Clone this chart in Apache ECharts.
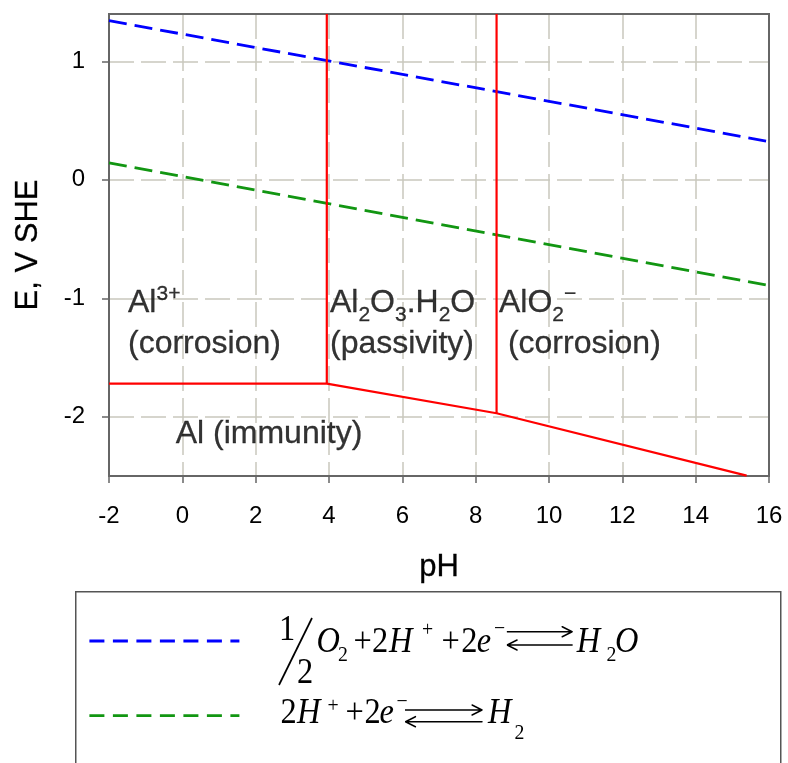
<!DOCTYPE html>
<html><head><meta charset="utf-8">
<script src="https://cdn.jsdelivr.net/npm/echarts@6/dist/echarts.min.js"></script>
<style>html,body{margin:0;padding:0;background:#fff}#c{width:788px;height:763px}</style>
</head><body><div id="c"></div>
<script>
// ---- data ----
const xTicks = [-2, 0, 2, 4, 6, 8, 10, 12, 14, 16];
const yTicks = [-2, -1, 0, 1];
const o2Line = [[-2, 1.344], [16, 0.323]];
const h2Line = [[-2, 0.144], [16, -0.891]];
const boundaryLower = [[-2, -1.72], [3.94, -1.72], [8.57, -1.97], [15.39, -2.497]];
const boundaryAcid = [[3.94, 1.4], [3.94, -1.72]];
const boundaryBase = [[8.57, 1.4], [8.57, -1.97]];
const regionTexts = [
  '{t|Al}{sup|3+}\n{t|(corrosion)}',
  '{t|Al}{sub|2}{t|O}{sub|3}{t|.H}{sub|2}{t|O}\n{t|(passivity)}',
  '{t|AlO}{sub|2}{sup|\u2212}\n{t| (corrosion)}',
  '{t|Al (immunity)}'
];
const regionAnchors = [[-1.482, -0.864], [4.027, -0.864], [8.636, -0.864], [-0.181, -1.975]];
const legendNames = ['O2 reduction', 'H2 evolution'];
const equationTexts = [
  '{f1|1}{f2|2}{vO|O}{sb1|2}{op1|+}{n2|2}{vH1|H}{sp1|+}{op2|+}{n3|2}{ve1|e}{sm1|\u2212}{ar1| }{vH2|H}{sb2|2}{vO2|O}',
  '{m1|2}{wH1|H}{sp2|+}{op3|+}{m2|2}{we|e}{sm2|\u2212}{ar2| }{wH2|H}{sb3|2}'
];

// ---- chart ----
const chart = echarts.init(document.getElementById('c'), null, {renderer: 'canvas'});
const sans = 'Liberation Sans, Arial, sans-serif';
const serif = 'Liberation Serif, Times New Roman, serif';
const gridColor = '#c9c7bd';
const axisColor = '#666666';
const SX = 0.9; // horizontal squeeze of the equation typesetting

function arrowImage(w, h, x0, x1, yT, yB) {
  const svg = '<svg xmlns="http://www.w3.org/2000/svg" width="' + w + '" height="' + h + '" viewBox="0 0 ' + w + ' ' + h + '" preserveAspectRatio="none">' +
    '<g stroke="#000" stroke-width="1.6" fill="none" stroke-linecap="round" stroke-linejoin="round">' +
    '<path d="M' + x0 + ' ' + yT + ' H' + x1 + ' M' + (x1 - 11) + ' ' + (yT - 5) + ' L' + x1 + ' ' + yT + ' L' + (x1 - 11) + ' ' + (yT + 5) + '"/>' +
    '<path d="M' + x1 + ' ' + yB + ' H' + x0 + ' M' + (x0 + 11) + ' ' + (yB - 5) + ' L' + x0 + ' ' + yB + ' L' + (x0 + 11) + ' ' + (yB + 5) + '"/>' +
    '</g></svg>';
  return 'data:image/svg+xml;charset=utf-8,' + encodeURIComponent(svg);
}

const regionRich = {
  t: {fontSize: 32, fontFamily: sans, color: '#000', lineHeight: 41, textBorderColor: '#000', textBorderWidth: 0.3},
  sup: {fontSize: 21, fontFamily: sans, color: '#000', lineHeight: 41, padding: [0, 0, 17, 0], textBorderColor: '#000', textBorderWidth: 0.3},
  sub: {fontSize: 21, fontFamily: sans, color: '#000', lineHeight: 41, padding: [26, 0, 0, 0], textBorderColor: '#000', textBorderWidth: 0.3}
};

function tk(size, width, pad, italic) {
  const s = {fontSize: size, fontFamily: serif, fill: '#000', lineHeight: 40, width: width, align: 'left'};
  if (italic) s.fontStyle = 'italic';
  if (pad) s.padding = pad;
  return s;
}
const eqRich = {
  f1: tk(36, 20, [0, 0, 24, 0]), f2: tk(36, 21.7, [62, 0, 0, 0]),
  vO: tk(36, 23.9, null, true), sb1: tk(22, 17.1, [25, 0, 0, 0]), op1: tk(36, 20.7), n2: tk(36, 18.9),
  vH1: tk(36, 36.6, null, true), sp1: tk(22, 21.7, [0, 0, 25, 0]), op2: tk(36, 21.8), n3: tk(36, 17.2),
  ve1: tk(36, 19.4, null, true), sm1: tk(22, 13.9, [0, 0, 28, 0]),
  ar1: {width: 77.8, height: 34, lineHeight: 40, fontSize: 10, backgroundColor: {image: arrowImage(77.8, 34, 0.6, 72.8, 5.7, 19)}},
  vH2: tk(36, 33.3, null, true), sb2: tk(22, 9.4, [25, 0, 0, 0]), vO2: tk(36, 28, null, true),
  m1: tk(36, 18.3), wH1: tk(36, 33.8, null, true), sp2: tk(22, 20, [0, 0, 14, 0]),
  op3: tk(36, 21.2), m2: tk(36, 16.7), we: tk(36, 18.9, null, true), sm2: tk(22, 9.4, [0, 0, 23, 0]),
  ar2: {width: 92.2, height: 34, lineHeight: 40, fontSize: 10, backgroundColor: {image: arrowImage(92.2, 34, 0.6, 85.6, 13.7, 25.4)}},
  wH2: tk(36, 29.4, null, true), sb3: tk(22, 12, [40, 0, 0, 0])
};

const redStyle = {color: '#ff0000', width: 2.2};
const nameStyle = {fontSize: 31, fontFamily: sans, color: '#000', textBorderColor: '#000', textBorderWidth: 0.3};

const option = {
  animation: false,
  backgroundColor: '#ffffff',
  grid: {left: 109, right: 19, top: 14, bottom: 287, show: true, z: 3, borderColor: axisColor, borderWidth: 2, backgroundColor: 'transparent'},
  xAxis: {
    type: 'value', min: -2, max: 16, interval: 2,
    name: 'pH', nameLocation: 'middle', nameGap: 76,
    nameTextStyle: nameStyle,
    axisLine: {show: true, onZero: false, lineStyle: {color: axisColor, width: 2}},
    axisTick: {show: true, inside: false, length: 7, lineStyle: {color: axisColor, width: 1.5}},
    axisLabel: {fontSize: 24, fontFamily: sans, color: '#000', margin: 28},
    splitLine: {show: true, lineStyle: {color: gridColor, width: 1.5, type: [25, 7]}}
  },
  yAxis: {
    type: 'value', min: -2.5, max: 1.4,
    name: 'E, V SHE', nameLocation: 'middle', nameGap: 65, nameRotate: 90,
    nameTextStyle: nameStyle,
    axisLine: {show: true, onZero: false, lineStyle: {color: axisColor, width: 2}},
    axisTick: {show: true, inside: false, length: 7, customValues: yTicks, lineStyle: {color: axisColor, width: 1.5}},
    axisLabel: {fontSize: 24, fontFamily: sans, color: '#000', margin: 24, customValues: yTicks},
    splitLine: {show: true, lineStyle: {color: gridColor, width: 1.5, type: [25, 7]}}
  },
  legend: {
    show: true, orient: 'vertical', left: 88, top: 634, padding: 0,
    itemWidth: 150, itemHeight: 14, itemGap: 62,
    data: legendNames,
    selectedMode: false,
    itemStyle: {color: 'transparent', borderColor: 'transparent', borderWidth: 0},
    lineStyle: {type: [15, 8.5], width: 2.8},
    formatter: function () { return ''; }
  },
  graphic: [
    {type: 'rect', left: 75, top: 591, silent: true, z: -1,
     shape: {width: 705, height: 200},
     style: {fill: 'transparent', stroke: '#555', lineWidth: 1.5}},
    {type: 'text', x: 279, y: 643, scaleX: SX, silent: true,
     style: {text: equationTexts[0], rich: eqRich, verticalAlign: 'middle', align: 'left', fill: '#000'}},
    {type: 'line', silent: true, shape: {x1: 279, y1: 685, x2: 312, y2: 618},
     style: {stroke: '#000', lineWidth: 1.7}},
    {type: 'text', x: 280.5, y: 713.3, scaleX: SX, silent: true,
     style: {text: equationTexts[1], rich: eqRich, verticalAlign: 'middle', align: 'left', fill: '#000'}}
  ],
  series: [
    {name: legendNames[0], type: 'line', data: o2Line, symbol: 'none', lineStyle: {color: '#0000ff', width: 2.8, type: [18, 8]}, itemStyle: {color: '#0000ff'}, z: 3},
    {name: legendNames[1], type: 'line', data: h2Line, symbol: 'none', lineStyle: {color: '#129612', width: 2.8, type: [18, 8]}, itemStyle: {color: '#129612'}, z: 3},
    {name: 'b1', type: 'line', data: boundaryLower, symbol: 'none', lineStyle: redStyle, z: 4},
    {name: 'b2', type: 'line', data: boundaryAcid, symbol: 'none', lineStyle: redStyle, z: 4},
    {name: 'b3', type: 'line', data: boundaryBase, symbol: 'none', lineStyle: redStyle, z: 4},
    {
      name: 'regions', type: 'scatter', symbolSize: 0, silent: true, z: 5,
      data: regionAnchors,
      label: {
        show: true, position: [0, 0], align: 'left', verticalAlign: 'top', color: '#000',
        formatter: function (p) { return regionTexts[p.dataIndex]; },
        rich: regionRich
      }
    }
  ]
};
chart.setOption(option);
</script></body></html>
